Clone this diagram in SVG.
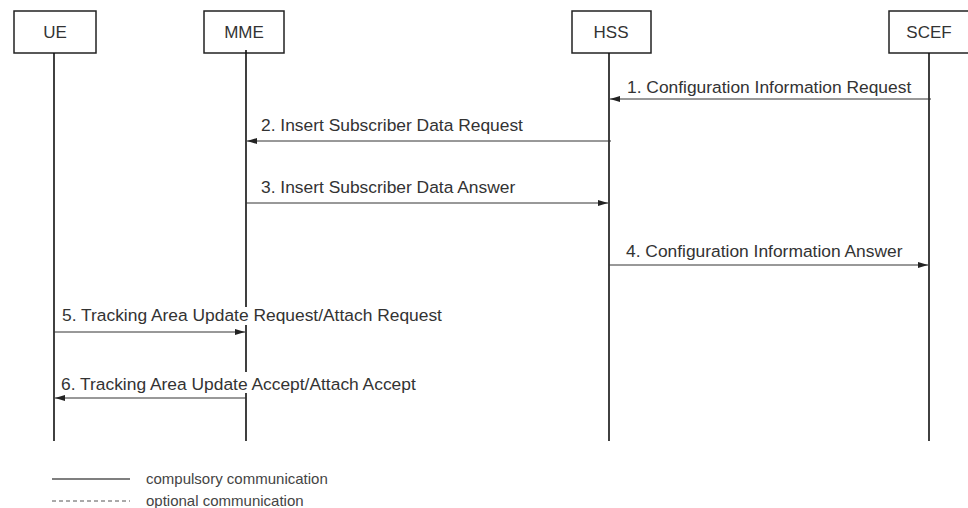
<svg xmlns="http://www.w3.org/2000/svg" width="968" height="508" viewBox="0 0 968 508">
<style>
.box{fill:#fff;stroke:#222;stroke-width:1.5}
.life{stroke:#111;stroke-width:1.6;fill:none}
.msg{stroke:#333;stroke-width:1;fill:none}
.t{font-family:"Liberation Sans",Arial,sans-serif;font-size:17.4px;fill:#333}
.n{font-family:"Liberation Sans",Arial,sans-serif;font-size:17px;fill:#333;text-anchor:middle}
.lg{font-family:"Liberation Sans",Arial,sans-serif;font-size:15px;fill:#444}
</style>
<defs>
<marker id="ah" viewBox="0 0 10 6" refX="10" refY="3" markerWidth="10" markerHeight="6" markerUnits="userSpaceOnUse" orient="auto">
<path d="M0,0 L10,3 L0,6 Z" fill="#222"/>
</marker>
</defs>
<rect width="968" height="508" fill="#fff"/>
<g id="UE"><rect class="box" x="14" y="11" width="82" height="42"/><text class="n" x="55" y="38">UE</text><line class="life" x1="54" y1="53" x2="54" y2="441"/></g>
<g id="MME"><rect class="box" x="204" y="11" width="80" height="42"/><text class="n" x="244" y="38">MME</text><path class="life" d="M246,50 V307 M246,325 V372 M246,393 V441"/></g>
<g id="HSS"><rect class="box" x="572" y="11" width="79" height="42"/><text class="n" x="611" y="38">HSS</text><line class="life" x1="609" y1="53" x2="609" y2="441"/></g>
<g id="SCEF"><rect class="box" x="889" y="11" width="80" height="42"/><text class="n" x="929" y="38">SCEF</text><line class="life" x1="929" y1="53" x2="929" y2="441"/></g>
<g id="connectors">
<line class="msg" x1="931" y1="99" x2="610" y2="99" marker-end="url(#ah)"/>
<text class="t" x="627" y="93">1. Configuration Information Request</text>
<line class="msg" x1="611" y1="141" x2="247" y2="141" marker-end="url(#ah)"/>
<text class="t" x="261" y="131">2. Insert Subscriber Data Request</text>
<line class="msg" x1="246" y1="203" x2="608" y2="203" marker-end="url(#ah)"/>
<text class="t" x="261" y="193">3. Insert Subscriber Data Answer</text>
<line class="msg" x1="609" y1="265" x2="928" y2="265" marker-end="url(#ah)"/>
<text class="t" x="626" y="257">4. Configuration Information Answer</text>
<line class="msg" x1="54" y1="332" x2="245" y2="332" marker-end="url(#ah)"/>
<text class="t" x="62" y="321">5. Tracking Area Update Request/Attach Request</text>
<line class="msg" x1="246" y1="398" x2="55" y2="398" marker-end="url(#ah)"/>
<text class="t" x="61" y="390">6. Tracking Area Update Accept/Attach Accept</text>
</g>
<g id="legend">
<line x1="52" y1="479" x2="130" y2="479" stroke="#555" stroke-width="1.5"/>
<text class="lg" x="146" y="484">compulsory communication</text>
<line x1="52" y1="501" x2="130" y2="501" stroke="#555" stroke-width="1" stroke-dasharray="4,3"/>
<text class="lg" x="146" y="506">optional communication</text>
</g>
</svg>
